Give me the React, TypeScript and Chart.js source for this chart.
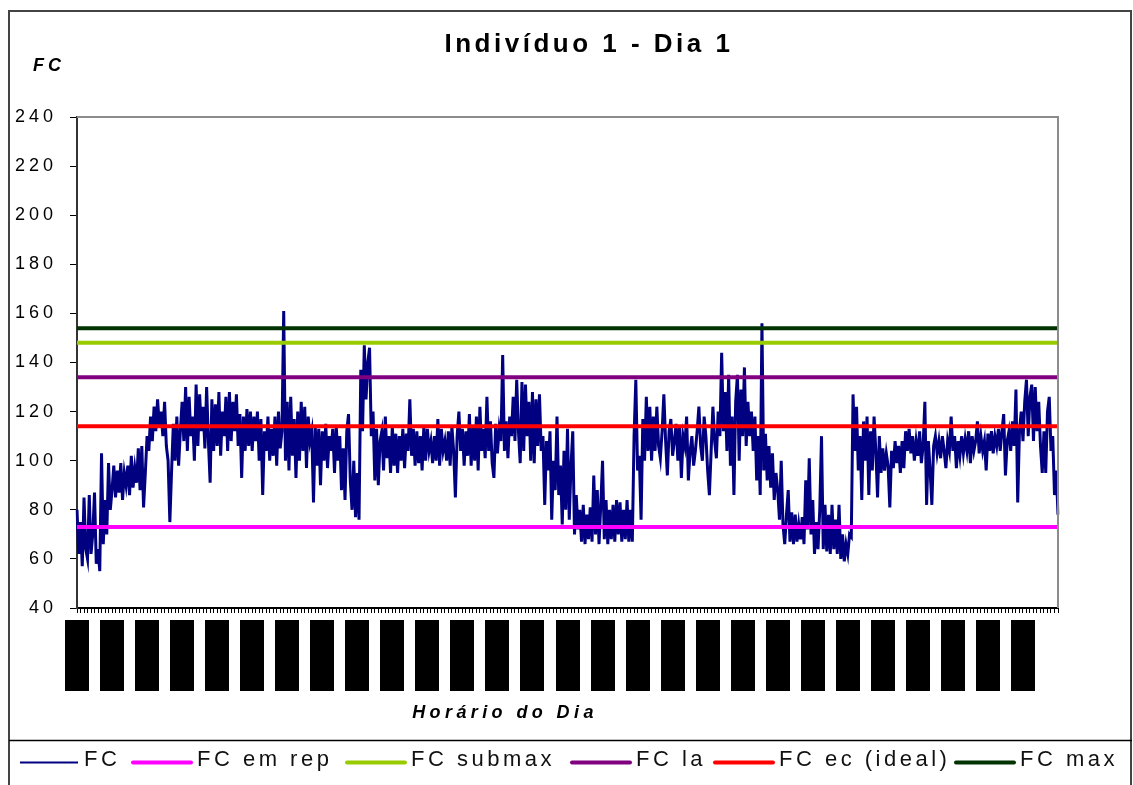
import React, { useEffect, useRef } from 'react';
import { Chart, registerables } from 'chart.js';

Chart.register(...registerables);

// Heart-rate samples (FC)
const FC: number[] = [
  80, 62, 75, 57, 85, 64, 60, 86, 62, 70, 87, 58, 64, 55, 103, 66, 84, 70, 99, 80,
  88, 98, 85, 96, 87, 99, 84, 95, 90, 98, 86, 102, 89, 97, 91, 105, 88, 106, 81, 95,
  110, 104, 118, 108, 122, 112, 125, 114, 120, 110, 124, 106, 100, 75,
  96, 115, 100, 118, 98, 112,
  124, 108, 130, 104, 126, 110, 118, 100, 131, 106,
  127, 112, 122, 105, 130, 108, 91, 125, 104, 123,
  106, 128, 102, 120, 110, 126, 104, 128, 108, 124,
  112, 127, 106, 119, 93, 118, 104, 121, 106, 120,
  104, 118, 108, 120, 100, 117, 86, 112, 104, 118,
  100,
  113, 102, 118, 98, 120, 105, 112, 161, 100, 124,
  96, 126, 102, 117, 93, 120, 100, 124, 104, 122,
  97, 118, 108, 112, 83, 114, 98, 113, 90, 112,
  100, 115, 97, 110, 104, 113, 95, 114, 100, 110,
  88, 105, 84, 112, 119, 92, 80, 100, 77, 95, 76,
  137, 112, 147, 125, 140, 146, 110, 120,
  92, 113, 90, 108, 112, 96, 118, 101, 110, 95,
  114, 98, 111, 95, 110, 100, 113, 97, 111, 104,
  125, 102, 113, 98, 112, 99, 110, 96, 114, 100,
  113, 104, 108, 99, 110, 100, 117, 98, 113, 104,
  108, 100, 112, 98, 114, 104, 85, 110, 120, 104, 113, 98, 112,
  102, 119, 98, 114, 100, 118, 96, 122, 104, 113,
  101, 126, 104, 116, 99, 93, 115, 103, 113, 108,
  143, 104, 116, 101, 118, 110, 126, 108, 133, 112,
  99, 132, 104, 131, 110, 124, 100, 128, 99, 125,
  106, 127,
  104, 110, 82, 108, 96, 112, 76, 100, 88, 118, 86, 98,
  74, 104, 80, 113, 76, 98, 112, 70, 86, 72,
  80, 67, 82, 66, 78, 68, 81, 67, 94, 70,
  88, 66, 82, 100, 68, 84, 66, 80, 68, 82,
  67, 84, 70, 83, 67, 80, 68, 84, 67, 80,
  67,
  110, 133, 96, 102, 76, 117, 100, 126, 104, 122, 100, 118, 104, 122,
  106, 101, 112, 127, 108, 94, 112, 117, 102, 108,
  115, 100, 114, 93, 110, 106, 118, 92, 104, 110,
  98, 104, 112, 122, 106, 100, 118, 110, 96, 86,
  104, 122, 108, 101, 120, 110,
  144, 112, 128, 104, 135, 98, 118, 86, 124, 135,
  100, 129, 110, 138, 106, 124, 110, 120, 104, 118,
  92, 110, 86,
  156, 96, 111, 92, 106, 89, 103, 84, 95,
  88, 76, 100, 74, 66, 78, 88, 67, 79, 66,
  78, 67, 74, 68, 77, 66, 92, 72, 101, 70,
  84, 62, 75, 64, 80, 110, 64, 82, 63, 78,
  62, 82, 64, 76, 62, 82, 60, 70, 59, 66,
  62, 70,
  69, 127,
  104, 122, 96, 110, 84, 116, 100, 118, 86, 112, 96, 118, 104, 85, 110, 95, 105,
  96, 103, 98, 81, 104, 97, 108, 99, 106, 95, 108, 97, 112, 104, 113,
  103, 110, 100, 108, 102, 112, 99, 106, 124, 82, 108, 96, 82, 106,
  110, 103, 108, 101, 110, 104, 97, 108, 104, 118,
  104, 110, 97, 108, 102, 110, 103, 109, 104, 112,
  99, 110, 104, 108, 116, 103, 110, 104, 108, 96,
  111, 104, 112, 103, 110, 106, 113, 104, 112, 119,
  94,
  108, 112, 104, 116, 106, 129, 83, 112, 120, 108,
  124, 133, 110, 126, 131, 108, 130, 112, 124, 106,
  95, 112, 95, 120, 126, 104, 110, 86, 96, 78,
];

// Reference levels
const FC_EM_REP = 73;
const FC_SUBMAX = 148;
const FC_LA = 134;
const FC_EC = 114;
const FC_MAX = 154;

// Categories (time samples; their labels are unreadable blocks in the picture)
const CATEGORIES: string[] = FC.map((_, i) => String(i));
const TICK_EVERY = 2;
const LABEL_EVERY = 20;

// Y axis
const Y_MIN = 40;
const Y_MAX = 240;
const Y_STEP = 20;

const TITLE = 'Indivíduo 1 - Dia 1';
const Y_TITLE = 'FC';
const X_TITLE = 'Horário do Dia';

const SERIES_NAMES = ['FC', 'FC em rep', 'FC submax', 'FC la', 'FC ec (ideal)', 'FC max'];
const SERIES_COLORS = ['#000080', '#FF00FF', '#99CC00', '#800080', '#FF0000', '#003300'];
const LEVELS = [FC_EM_REP, FC_SUBMAX, FC_LA, FC_EC, FC_MAX];

const FONT = "'Liberation Sans', Arial, sans-serif";

// legend layout (line start x)
const LEGEND_LINE_X = [20, 133, 347, 572, 715, 956];
const LEGEND_LINE_LEN = 58;

const decor = {
  id: 'decor',
  beforeDraw(chart: any) {
    const ctx = chart.ctx;
    ctx.save();
    ctx.fillStyle = '#ffffff';
    ctx.fillRect(0, 0, chart.width, chart.height);
    ctx.restore();
    ctx.letterSpacing = '4px';
  },
  afterDraw(chart: any) {
    const ctx = chart.ctx as CanvasRenderingContext2D;
    (ctx as any).letterSpacing = '0px';
    const { left, top, right, bottom } = chart.chartArea;
    ctx.save();
    // plot area top & right border
    ctx.strokeStyle = '#8c8c8c';
    ctx.lineWidth = 2;
    ctx.beginPath();
    ctx.moveTo(left, top);
    ctx.lineTo(right, top);
    ctx.lineTo(right, bottom);
    ctx.stroke();

    // crowded category labels (rendered as solid blocks in the reference)
    const xs = chart.scales.x;
    ctx.fillStyle = '#000';
    for (let i = 0; i < CATEGORIES.length - 1; i += LABEL_EVERY) {
      const px = xs.getPixelForValue(i);
      ctx.fillRect(Math.round(px) - 12, 620, 24, 71);
    }

    // outer frame
    ctx.strokeStyle = '#444';
    ctx.lineWidth = 2;
    ctx.strokeRect(9, 11, 1122, 800);
    // legend box top line
    ctx.strokeStyle = '#000';
    ctx.lineWidth = 1.5;
    ctx.beginPath();
    ctx.moveTo(9, 740.5);
    ctx.lineTo(1132, 740.5);
    ctx.stroke();

    // title
    ctx.fillStyle = '#000';
    ctx.textAlign = 'center';
    ctx.textBaseline = 'alphabetic';
    ctx.font = `bold 26px ${FONT}`;
    (ctx as any).letterSpacing = '3.5px';
    ctx.fillText(TITLE, 589, 52);

    // y title
    ctx.textAlign = 'left';
    ctx.font = `italic bold 18px ${FONT}`;
    (ctx as any).letterSpacing = '4px';
    ctx.fillText(Y_TITLE, 33, 71);

    // x title
    ctx.textAlign = 'center';
    ctx.font = `italic bold 18px ${FONT}`;
    (ctx as any).letterSpacing = '4.4px';
    ctx.fillText(X_TITLE, 505, 718);

    // legend
    ctx.textAlign = 'left';
    ctx.font = `22px ${FONT}`;
    (ctx as any).letterSpacing = '3.5px';
    for (let i = 0; i < SERIES_NAMES.length; i++) {
      const x0 = LEGEND_LINE_X[i];
      ctx.strokeStyle = SERIES_COLORS[i];
      ctx.lineWidth = i === 0 ? 2 : 4;
      ctx.lineCap = i === 0 ? 'butt' : 'round';
      ctx.beginPath();
      ctx.moveTo(x0, 762.5);
      ctx.lineTo(x0 + LEGEND_LINE_LEN, 762.5);
      ctx.stroke();
      ctx.fillStyle = '#111';
      ctx.fillText(SERIES_NAMES[i], x0 + LEGEND_LINE_LEN + 6, 766);
    }
    (ctx as any).letterSpacing = '0px';
    ctx.restore();
  },
};

export default function App() {
  const ref = useRef<HTMLCanvasElement | null>(null);

  useEffect(() => {
    if (!ref.current) return;
    const datasets: any[] = [
      {
        label: SERIES_NAMES[0],
        data: FC,
        borderColor: SERIES_COLORS[0],
        borderWidth: 3,
        order: 1,
      },
      ...LEVELS.map((v, k) => ({
        label: SERIES_NAMES[k + 1],
        data: CATEGORIES.map(() => v),
        borderColor: SERIES_COLORS[k + 1],
        borderWidth: 4,
        order: 0,
      })),
    ];
    const chart = new Chart(ref.current, {
      type: 'line',
      data: { labels: CATEGORIES, datasets },
      options: {
        animation: false,
        responsive: false,
        devicePixelRatio: 1,
        layout: { padding: { left: 8, top: 117, right: 75, bottom: 162 } },
        elements: { point: { radius: 0 }, line: { tension: 0, borderJoinStyle: 'miter' } },
        plugins: {
          legend: { display: false },
          title: { display: false },
          tooltip: { enabled: false },
        },
        scales: {
          x: {
            type: 'category',
            offset: false,
            grid: {
              display: true,
              drawOnChartArea: false,
              drawTicks: true,
              tickLength: 5,
              color: '#000',
              tickColor: (c: any) => (c.index % TICK_EVERY === 0 ? '#000' : 'rgba(0,0,0,0)'),
              lineWidth: 1,
            },
            border: { display: true, color: '#000', width: 2 },
            ticks: { display: false, autoSkip: false },
            afterFit: (s: any) => {
              s.height = 15;
            },
          },
          y: {
            min: Y_MIN,
            max: Y_MAX,
            ticks: {
              stepSize: Y_STEP,
              color: '#000',
              font: { family: FONT, size: 18 },
              padding: 13,
            },
            grid: {
              drawOnChartArea: false,
              drawTicks: true,
              tickLength: 7,
              tickColor: '#000',
              color: '#000',
            },
            border: { display: true, color: '#333', width: 2 },
            afterFit: (s: any) => {
              s.width = 69;
            },
          },
        },
      },
      plugins: [decor],
    });
    return () => chart.destroy();
  }, []);

  return (
    <div style={{ position: 'absolute', left: 0, top: 0, width: 1133, height: 785, background: '#fff' }}>
      <canvas ref={ref} width={1133} height={785} style={{ display: 'block' }} />
    </div>
  );
}
